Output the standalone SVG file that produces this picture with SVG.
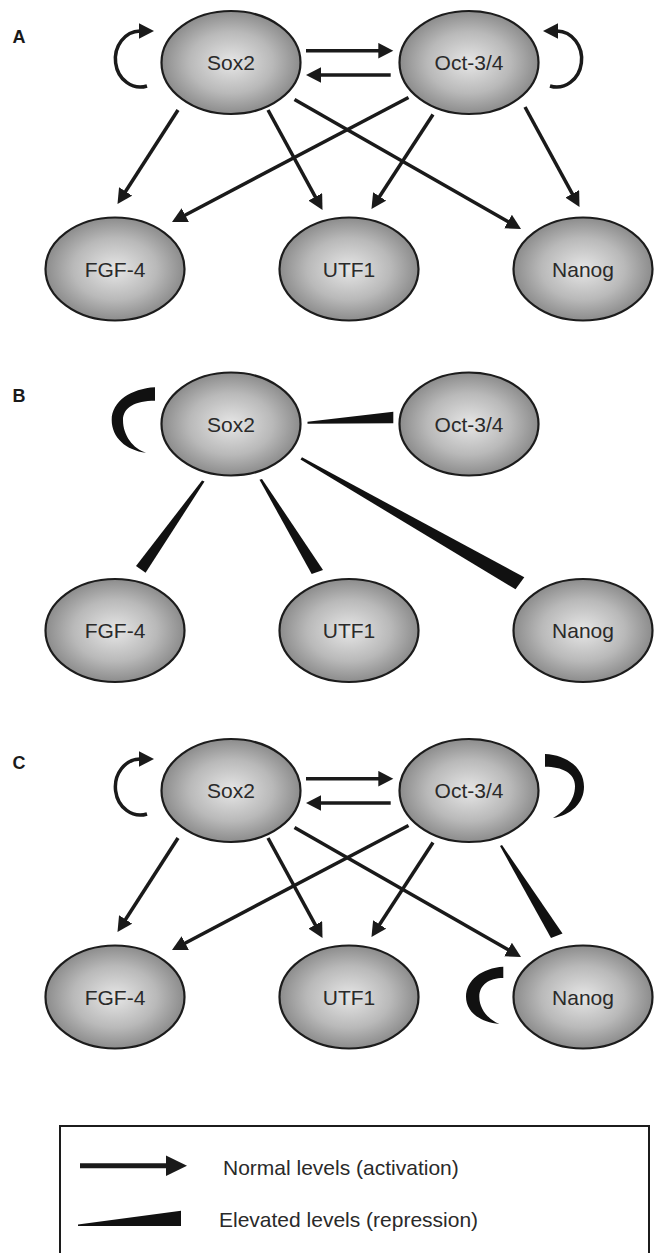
<svg xmlns="http://www.w3.org/2000/svg" width="654" height="1253" viewBox="0 0 654 1253">
<style>
.node{fill:url(#ng);stroke:#1c1c1c;stroke-width:2.2}
.lbl{font-family:"Liberation Sans",Arial,sans-serif;font-size:21px;fill:#2a2a2a;text-anchor:middle}
.plab{font-family:"Liberation Sans",Arial,sans-serif;font-size:18px;font-weight:bold;fill:#1a1a1a}
.act{fill:none;stroke:#1a1a1a;stroke-width:3.5;marker-end:url(#ah)}
.rep{fill:#111;stroke:none}
.leg{font-family:"Liberation Sans",Arial,sans-serif;font-size:21px;fill:#2a2a2a}
</style>
<defs>
<radialGradient id="ng" cx="50%" cy="50%" r="50%">
<stop offset="0" stop-color="#e6e6e6"/>
<stop offset="0.6" stop-color="#b9b9b9"/>
<stop offset="1" stop-color="#8c8c8c"/>
</radialGradient>
<marker id="ah" markerUnits="userSpaceOnUse" viewBox="0 0 16 16" markerWidth="16" markerHeight="16" refX="10" refY="7.8" orient="auto">
<path d="M0,0 L15,7.8 L0,15.6 Z" fill="#1a1a1a"/>
</marker>
</defs>
<rect width="654" height="1253" fill="#fff"/>

<!-- Panel A -->
<g id="panel-A">
<text class="plab" x="12.5" y="42.5">A</text>
<g id="A-connectors">
<path class="act" d="M306,50.7 L388.3,50.7"/>
<path class="act" d="M390.7,75 L311,75"/>
<path class="act" d="M147,86 A25,28 0 1 1 140,31 L149,31"/>
<path class="act" d="M550,86 A25,28 0 1 0 557,31 L548,31"/>
<path class="act" d="M178,110 L120.2,199.8"/>
<path class="act" d="M268,110 L320.1,205.6"/>
<path class="act" d="M294.5,99.5 L516.7,226.5"/>
<path class="act" d="M408.5,97.5 L176.4,219.7"/>
<path class="act" d="M433,114.5 L374.2,204.8"/>
<path class="act" d="M525,107 L577.1,202.6"/>
</g>
<g id="A-sox2"><ellipse class="node" cx="231" cy="62.5" rx="69.5" ry="51.5"/><text class="lbl" x="231" y="70">Sox2</text></g>
<g id="A-oct"><ellipse class="node" cx="469" cy="62.5" rx="69.5" ry="51.5"/><text class="lbl" x="469" y="70">Oct-3/4</text></g>
<g id="A-fgf4"><ellipse class="node" cx="115" cy="269" rx="69.5" ry="51.5"/><text class="lbl" x="115" y="276.5">FGF-4</text></g>
<g id="A-utf1"><ellipse class="node" cx="349" cy="269" rx="69.5" ry="51.5"/><text class="lbl" x="349" y="276.5">UTF1</text></g>
<g id="A-nanog"><ellipse class="node" cx="583" cy="269" rx="69.5" ry="51.5"/><text class="lbl" x="583" y="276.5">Nanog</text></g>
</g>

<!-- Panel B -->
<g id="panel-B" transform="translate(0,361.5)">
<text class="plab" x="12.5" y="40">B</text>
<g id="B-connectors">
<path class="rep" d="M155,25.8 C131,27 111.7,40 111.7,58.5 C111.7,76 126,89 146,91.2 C133,87 123,74 123,58.5 C123,46 135,39.2 155,39.2 Z"/>
<polygon class="rep" points="307.5,60.3 393.3,50.2 393.3,61.8 307.5,62.3"/>
<polygon class="rep" points="202,119 204.5,120 145.6,211.2 136,204.5"/>
<polygon class="rep" points="259.5,118.3 262,117.4 323,208.5 311.7,212.5"/>
<polygon class="rep" points="300.5,98 302,95.8 524.3,215.8 515.5,227.8"/>
</g>
<g id="B-sox2"><ellipse class="node" cx="231" cy="62.5" rx="69.5" ry="51.5"/><text class="lbl" x="231" y="70">Sox2</text></g>
<g id="B-oct"><ellipse class="node" cx="469" cy="62.5" rx="69.5" ry="51.5"/><text class="lbl" x="469" y="70">Oct-3/4</text></g>
<g id="B-fgf4"><ellipse class="node" cx="115" cy="269" rx="69.5" ry="51.5"/><text class="lbl" x="115" y="276.5">FGF-4</text></g>
<g id="B-utf1"><ellipse class="node" cx="349" cy="269" rx="69.5" ry="51.5"/><text class="lbl" x="349" y="276.5">UTF1</text></g>
<g id="B-nanog"><ellipse class="node" cx="583" cy="269" rx="69.5" ry="51.5"/><text class="lbl" x="583" y="276.5">Nanog</text></g>
</g>

<!-- Panel C -->
<g id="panel-C" transform="translate(0,728)">
<text class="plab" x="12.5" y="40.5">C</text>
<g id="C-connectors">
<path class="act" d="M306,50.7 L388.3,50.7"/>
<path class="act" d="M390.7,75 L311,75"/>
<path class="act" d="M147,86 A25,28 0 1 1 140,31 L149,31"/>
<path class="rep" d="M545,26 C567,27 584,40 584,58.7 C584,75 571,87 553,90 C564,84 575,73 575,58 C575,45 562,38.7 545,38.7 Z"/>
<path class="act" d="M178,110 L120.2,199.8"/>
<path class="act" d="M268,110 L320.1,205.6"/>
<path class="act" d="M294.5,99.5 L516.7,226.5"/>
<path class="act" d="M408.5,97.5 L176.4,219.7"/>
<path class="act" d="M433,114.5 L374.2,204.8"/>
<polygon class="rep" points="500,118 502,117 562.5,205.5 551,210"/>
<path class="rep" d="M503.3,238.7 C482,240 466,252 466,268.7 C466,284 480,294 499.3,296 C488,291 479.3,281 479.3,268.7 C479.3,257 489,250 503.3,250 Z"/>
</g>
<g id="C-sox2"><ellipse class="node" cx="231" cy="62.5" rx="69.5" ry="51.5"/><text class="lbl" x="231" y="70">Sox2</text></g>
<g id="C-oct"><ellipse class="node" cx="469" cy="62.5" rx="69.5" ry="51.5"/><text class="lbl" x="469" y="70">Oct-3/4</text></g>
<g id="C-fgf4"><ellipse class="node" cx="115" cy="269" rx="69.5" ry="51.5"/><text class="lbl" x="115" y="276.5">FGF-4</text></g>
<g id="C-utf1"><ellipse class="node" cx="349" cy="269" rx="69.5" ry="51.5"/><text class="lbl" x="349" y="276.5">UTF1</text></g>
<g id="C-nanog"><ellipse class="node" cx="583" cy="269" rx="69.5" ry="51.5"/><text class="lbl" x="583" y="276.5">Nanog</text></g>
</g>

<!-- Legend -->
<g id="legend">
<rect x="60" y="1126" width="589" height="140" fill="none" stroke="#1c1c1c" stroke-width="2"/>
<line x1="80" y1="1165.7" x2="168" y2="1165.7" stroke="#1a1a1a" stroke-width="5"/>
<polygon points="166,1155.5 187,1165.7 166,1176" fill="#1a1a1a"/>
<text class="leg" x="223" y="1175">Normal levels (activation)</text>
<polygon points="78,1224.5 181,1210.7 181,1226 78,1226" fill="#111"/>
<text class="leg" x="219" y="1226.5">Elevated levels (repression)</text>
</g>
</svg>
